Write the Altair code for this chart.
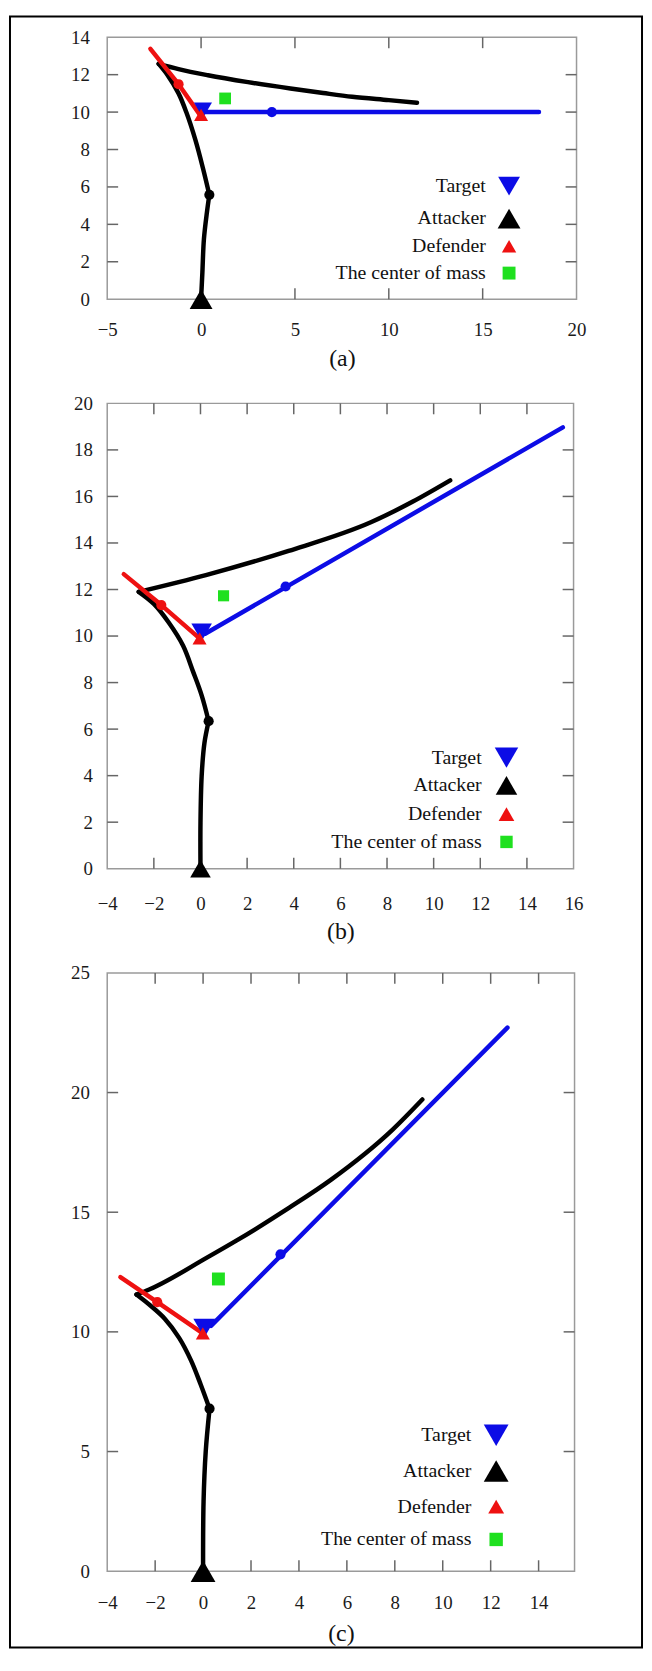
import altair as alt
import pandas as pd

FONT = "Liberation Serif"
BLUE = "#0c0ce6"
RED = "#ee1111"
GREEN = "#1fe01f"
BLACK = "#000000"
TICK = "#666666"

LEGEND_LABELS = ["Target", "Attacker", "Defender", "The center of mass"]

# ---------------- Panel (a) ----------------
# attacker path in three pieces: start -> first dot -> turning corner -> end
a_att1_x = [0.0, 0.07, 0.15, 0.31, 0.44]
a_att1_y = [0.0, 1.45, 3.2, 4.63, 5.58]
a_att2_x = [0.44, 0.1, -0.3, -0.79, -1.2, -1.8, -2.26]
a_att2_y = [5.58, 7.0, 8.5, 10.0, 11.0, 12.0, 12.58]
a_att3_x = [-2.26, -1.2, 0.37, 2.5, 4.76, 6.5, 8.05, 10.0, 11.5]
a_att3_y = [12.58, 12.3, 11.97, 11.6, 11.26, 11.02, 10.82, 10.64, 10.5]
a_def_x = [-2.7, -1.2, -0.06]
a_def_y = [13.38, 11.49, 9.85]
a_tgt_x = [0.15, 18.0]
a_tgt_y = [10.0, 10.0]
a_att_dot = (0.44, 5.58)
a_def_dot = (-1.2, 11.49)
a_tgt_dot = (3.77, 10.0)
a_tgt_start = (0.1, 10.1)
a_def_end = (0.0, 9.85)
a_att_start = (0.0, 0.0)
a_com = (1.28, 10.73)
a_xlabels = [-5, 0, 5, 10, 15, 20]
a_ylabels = [0, 2, 4, 6, 8, 10, 12, 14]
a_xticks = [0, 5, 10, 15]
a_yticks = [2, 4, 6, 8, 10, 12]

# ---------------- Panel (b) ----------------
b_att1_x = [0.0, 0.0, 0.05, 0.17, 0.35]
b_att1_y = [0.0, 1.98, 3.98, 5.41, 6.34]
b_att2_x = [0.35, 0.05, -0.31, -0.75, -1.37, -2.0, -2.65]
b_att2_y = [6.34, 7.45, 8.45, 9.59, 10.59, 11.38, 11.9]
b_att3_x = [-2.65, 0.23, 3.78, 7.33, 9.11, 10.71]
b_att3_y = [11.9, 12.62, 13.66, 14.9, 15.78, 16.69]
b_def_x = [-3.29, -1.68, -0.04]
b_def_y = [12.66, 11.33, 9.9]
b_tgt_x = [0.2, 15.54]
b_tgt_y = [10.1, 18.97]
b_att_dot = (0.35, 6.34)
b_def_dot = (-1.68, 11.33)
b_tgt_dot = (3.65, 12.13)
b_tgt_start = (0.05, 10.16)
b_def_end = (-0.04, 9.9)
b_att_start = (0.0, 0.0)
b_com = (0.99, 11.73)
b_xlabels = [-4, -2, 0, 2, 4, 6, 8, 10, 12, 14, 16]
b_ylabels = [0, 2, 4, 6, 8, 10, 12, 14, 16, 18, 20]
b_xticks = [-2, 0, 2, 4, 6, 8, 10, 12, 14]
b_yticks = [2, 4, 6, 8, 10, 12, 14, 16, 18]

# ---------------- Panel (c) ----------------
c_att1_x = [0.0, 0.02, 0.11, 0.27]
c_att1_y = [0.0, 2.9, 5.0, 6.79]
c_att2_x = [0.27, -0.1, -0.5, -1.0, -1.6, -2.2, -2.78]
c_att2_y = [6.79, 7.8, 8.8, 9.75, 10.55, 11.1, 11.56]
c_att3_x = [-2.78, -2.25, 0.16, 1.37, 3.6, 5.33, 7.91, 9.15]
c_att3_y = [11.56, 11.77, 13.1, 13.8, 15.19, 16.35, 18.45, 19.71]
c_def_x = [-3.45, -1.91, -0.01]
c_def_y = [12.29, 11.24, 9.94]
c_tgt_x = [0.33, 12.7]
c_tgt_y = [10.25, 22.71]
c_att_dot = (0.27, 6.79)
c_def_dot = (-1.91, 11.24)
c_tgt_dot = (3.23, 13.24)
c_tgt_start = (0.05, 10.15)
c_def_end = (-0.01, 9.94)
c_att_start = (0.0, 0.0)
c_com = (0.64, 12.21)
c_xlabels = [-4, -2, 0, 2, 4, 6, 8, 10, 12, 14]
c_ylabels = [0, 5, 10, 15, 20, 25]
c_xticks = [-2, 0, 2, 4, 6, 8, 10, 12, 14]
c_yticks = [5, 10, 15, 20]


def make_panel(cfg):
    W, H = cfg["W"], cfg["H"]
    xs = alt.Scale(domain=cfg["xdom"], nice=False, zero=False)
    ys = alt.Scale(domain=cfg["ydom"], nice=False, zero=False)
    xaxis = alt.Axis(values=cfg["xlabels"], format="d", title=cfg["title"],
                     titleFont=FONT, titleFontSize=24, titleFontWeight="normal",
                     titleColor="#111111", titleBaseline="alphabetic", titleY=cfg["titleY"],
                     labelFont=FONT, labelFontSize=19, labelColor="#1a1a1a",
                     labelPadding=cfg["xpad"], labelFlush=False, labelOverlap=False,
                     domain=False, ticks=False, tickSize=0, grid=False)
    yaxis = alt.Axis(values=cfg["ylabels"], format="d", title=None,
                     labelFont=FONT, labelFontSize=19, labelColor="#1a1a1a",
                     labelPadding=cfg["ypad"], labelFlush=False, labelOverlap=False,
                     domain=False, ticks=False, tickSize=0, grid=False)
    X = alt.X("x:Q", scale=xs, axis=xaxis)
    Y = alt.Y("y:Q", scale=ys, axis=yaxis)

    layers = []
    if cfg.get("border"):
        layers.append(alt.Chart(pd.DataFrame({"k": [0]})).mark_rect(
            fill="white", fillOpacity=0, stroke="black", strokeWidth=2).encode(
            x=alt.value(cfg["border"][0]), x2=alt.value(cfg["border"][1]),
            y=alt.value(cfg["border"][2]), y2=alt.value(cfg["border"][3])))

    # inward ticks on all four sides
    xt = pd.DataFrame({"x": cfg["xticks"]})
    yt = pd.DataFrame({"y": cfg["yticks"]})
    layers.append(alt.Chart(xt).mark_rule(color=TICK, strokeWidth=1.5).encode(
        x=X, y=alt.value(H), y2=alt.value(H - 11)))
    layers.append(alt.Chart(xt).mark_rule(color=TICK, strokeWidth=1.5).encode(
        x=X, y=alt.value(0), y2=alt.value(11)))
    layers.append(alt.Chart(yt).mark_rule(color=TICK, strokeWidth=1.5).encode(
        y=Y, x=alt.value(0), x2=alt.value(11)))
    layers.append(alt.Chart(yt).mark_rule(color=TICK, strokeWidth=1.5).encode(
        y=Y, x=alt.value(W), x2=alt.value(W - 11)))

    def line(xv, yv, color, interp="linear"):
        df = pd.DataFrame({"x": xv, "y": yv, "i": list(range(len(xv)))})
        return alt.Chart(df).mark_line(color=color, strokeWidth=4.5, strokeCap="round",
                                       strokeJoin="round", interpolate=interp).encode(
            x=X, y=Y, order="i:Q")

    def pt(p, shape, color, size):
        df = pd.DataFrame({"x": [p[0]], "y": [p[1]]})
        return alt.Chart(df).mark_point(shape=shape, filled=True, color=color, size=size,
                                        opacity=1, strokeWidth=0).encode(x=X, y=Y)

    seg1, seg2, seg3 = cfg["att"]
    layers.append(line(seg1[0], seg1[1], BLACK, "catmull-rom"))
    layers.append(line(seg2[0], seg2[1], BLACK, "catmull-rom"))
    layers.append(line(seg3[0], seg3[1], BLACK, "monotone"))
    layers.append(line(cfg["tgt_x"], cfg["tgt_y"], BLUE))
    layers.append(line(cfg["def_x"], cfg["def_y"], RED))
    layers.append(pt(cfg["att_dot"], "circle", BLACK, 105))
    layers.append(pt(cfg["tgt_dot"], "circle", BLUE, 105))
    layers.append(pt(cfg["def_dot"], "circle", RED, 105))
    layers.append(pt(cfg["tgt_start"], "triangle-down", BLUE, cfg["m_tgt"]))
    layers.append(pt(cfg["def_end"], "triangle-up", RED, 200))
    layers.append(pt(cfg["att_start"], "triangle-up", BLACK, cfg["m_att"]))
    layers.append(pt(cfg["com"], "square", GREEN, cfg["m_com"]))

    # legend (inside plot, bottom right; symbol right of label)
    shapes = ["triangle-down", "triangle-up", "triangle-up", "square"]
    colors = [BLUE, BLACK, RED, GREEN]
    for lbl, shp, col, sz, ly in zip(LEGEND_LABELS, shapes, colors, cfg["leg_sizes"], cfg["leg_y"]):
        d = pd.DataFrame({"t": [lbl]})
        layers.append(alt.Chart(d).mark_text(align="right", baseline="middle", font=FONT,
                                             fontSize=20, color="#111111").encode(
            x=alt.value(cfg["leg_tx"]), y=alt.value(ly), text="t:N"))
        layers.append(alt.Chart(d).mark_point(shape=shp, filled=True, color=col, size=sz,
                                              opacity=1, strokeWidth=0).encode(
            x=alt.value(cfg["leg_sx"]), y=alt.value(ly)))

    return alt.layer(*layers).properties(width=W, height=H)


pa = make_panel(dict(
    W=473, H=264, xdom=[-5, 20], ydom=[0, 14], xlabels=a_xlabels, ylabels=a_ylabels,
    xticks=a_xticks, yticks=a_yticks, xpad=22, ypad=18, titleY=67, title="(a)",
    att=[(a_att1_x, a_att1_y), (a_att2_x, a_att2_y), (a_att3_x, a_att3_y)],
    def_x=a_def_x, def_y=a_def_y, tgt_x=a_tgt_x, tgt_y=a_tgt_y,
    att_dot=a_att_dot, def_dot=a_def_dot, tgt_dot=a_tgt_dot, tgt_start=a_tgt_start,
    def_end=a_def_end, att_start=a_att_start, com=a_com,
    m_tgt=330, m_att=530, m_com=140,
    leg_sizes=[484, 529, 210, 169], leg_y=[150, 182.7, 210.7, 237.7], leg_tx=381.6, leg_sx=405,
    border=(-98, 539, -21, 1623),
))

pb = make_panel(dict(
    W=470, H=469, xdom=[-4, 16], ydom=[0, 20], xlabels=b_xlabels, ylabels=b_ylabels,
    xticks=b_xticks, yticks=b_yticks, xpad=26, ypad=15, titleY=70.5, title="(b)",
    att=[(b_att1_x, b_att1_y), (b_att2_x, b_att2_y), (b_att3_x, b_att3_y)],
    def_x=b_def_x, def_y=b_def_y, tgt_x=b_tgt_x, tgt_y=b_tgt_y,
    att_dot=b_att_dot, def_dot=b_def_dot, tgt_dot=b_tgt_dot, tgt_start=b_tgt_start,
    def_end=b_def_end, att_start=b_att_start, com=b_com,
    m_tgt=430, m_att=430, m_com=125,
    leg_sizes=[560, 470, 250, 156], leg_y=[357, 385, 414, 442], leg_tx=377.4, leg_sx=402.4,
))

pc = make_panel(dict(
    W=471, H=603, xdom=[-4, 15.5], ydom=[0, 25], xlabels=c_xlabels, ylabels=c_ylabels,
    xticks=c_xticks, yticks=c_yticks, xpad=23, ypad=18, titleY=70, title="(c)",
    att=[(c_att1_x, c_att1_y), (c_att2_x, c_att2_y), (c_att3_x, c_att3_y)],
    def_x=c_def_x, def_y=c_def_y, tgt_x=c_tgt_x, tgt_y=c_tgt_y,
    att_dot=c_att_dot, def_dot=c_def_dot, tgt_dot=c_tgt_dot, tgt_start=c_tgt_start,
    def_end=c_def_end, att_start=c_att_start, com=c_com,
    m_tgt=484, m_att=625, m_com=170,
    leg_sizes=[625, 625, 256, 182], leg_y=[466, 502, 538, 571], leg_tx=367, leg_sx=392,
))

chart = alt.vconcat(pa, pb, pc, spacing=105, bounds="flush").properties(
    padding=0, background="white",
    autosize=alt.AutoSizeParams(type="pad"),
).configure_view(stroke="#9a9a9a", strokeWidth=1.5)

chart.save("out.html", embed_options={"renderer": "svg", "actions": False})
